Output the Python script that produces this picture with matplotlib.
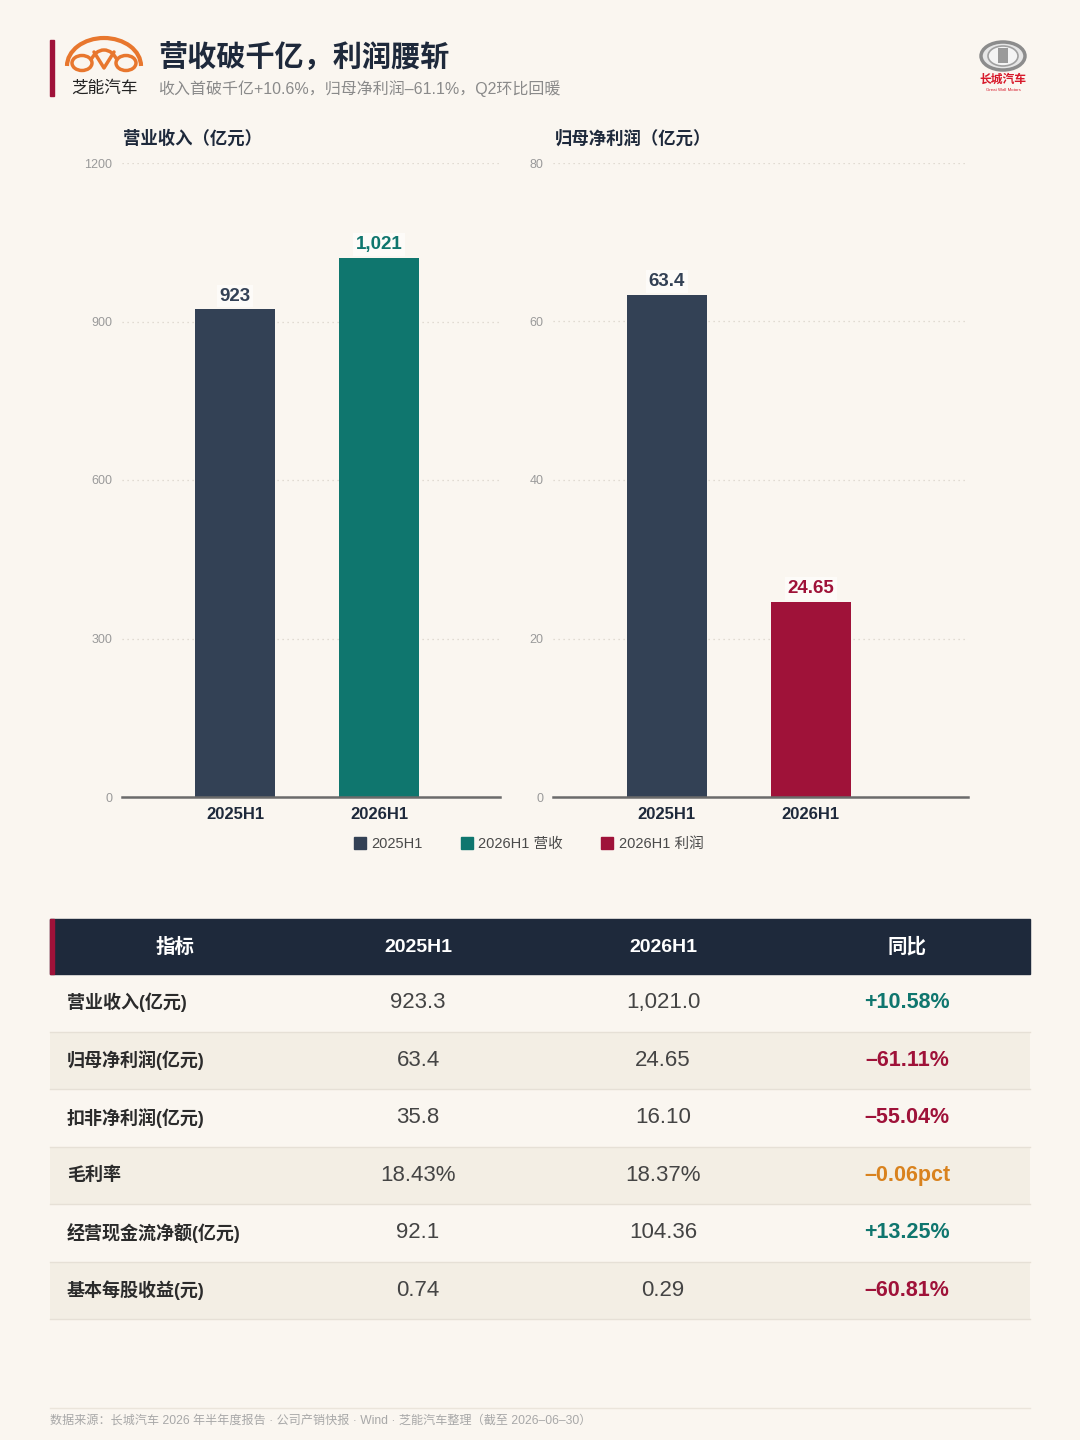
import matplotlib
matplotlib.use('Agg')
import matplotlib.pyplot as plt
from matplotlib.patches import Rectangle, Ellipse, Arc
from matplotlib.lines import Line2D

# 拉丁字符用 Liberation Sans，中文回落到 Noto Sans CJK SC
plt.rcParams['font.family'] = ['Liberation Sans', 'Noto Sans CJK SC', 'DejaVu Sans']

# ---- 数据 ----
categories = ['2025H1', '2026H1']
revenue = [923, 1021]
revenue_labels = ['923', '1,021']
profit = [63.4, 24.65]
profit_labels = ['63.4', '24.65']
rev_ticks = [0, 300, 600, 900, 1200]
profit_ticks = [0, 20, 40, 60, 80]

table_head = ['指标', '2025H1', '2026H1', '同比']
metrics = ['营业收入(亿元)', '归母净利润(亿元)', '扣非净利润(亿元)', '毛利率',
           '经营现金流净额(亿元)', '基本每股收益(元)']
h1_2025 = ['923.3', '63.4', '35.8', '18.43%', '92.1', '0.74']
h1_2026 = ['1,021.0', '24.65', '16.10', '18.37%', '104.36', '0.29']
yoy = ['+10.58%', '–61.11%', '–55.04%', '–0.06pct', '+13.25%', '–60.81%']

# ---- 颜色 ----
bg = '#faf6f0'
navy = '#334155'
teal = '#0f766e'
crimson = '#9f1239'
orange = '#d9821e'
dark = '#1e293b'
grid_c = '#d9d3c9'

W, H = 1080, 1440
fig = plt.figure(figsize=(10.8, 14.4), dpi=100)
fig.patch.set_facecolor(bg)


def box(x0, y0, x1, y1):
    # 像素坐标 -> figure 坐标
    return [x0 / W, 1 - y1 / H, (x1 - x0) / W, (y1 - y0) / H]


def style_axis(ax, ticks):
    ax.set_facecolor('none')
    ax.set_yticks(ticks)
    ax.set_ylim(ticks[0], ticks[-1])
    ax.grid(axis='y', linestyle=(0, (1, 3)), color=grid_c, linewidth=0.9)
    ax.set_axisbelow(True)
    for s in ['top', 'right', 'left']:
        ax.spines[s].set_visible(False)
    ax.spines['bottom'].set_color('#6b6b6b')
    ax.spines['bottom'].set_linewidth(1.8)
    ax.tick_params(axis='y', length=0, pad=7, labelsize=9, labelcolor='#9a9a9a')
    ax.tick_params(axis='x', length=0, pad=7)
    ax.set_xticks(range(len(categories)))
    ax.set_xticklabels(categories, fontsize=12, fontweight='bold', color=dark)


def value_labels(ax, vals, labels, colors):
    for i, (v, t, c) in enumerate(zip(vals, labels, colors)):
        ax.annotate(t, (i, v), xytext=(0, 9.5), textcoords='offset points',
                    ha='center', va='center', fontsize=13.5, fontweight='bold', color=c,
                    bbox=dict(boxstyle='square,pad=0.15', fc='#fdfbf8', ec='none'))


# ---- 左图：营业收入 ----
ax1 = fig.add_axes(box(122, 163, 500, 797))
ax1.bar(range(len(categories)), revenue, width=0.556, color=[navy, teal])
ax1.set_xlim(-0.785, 1.84)
style_axis(ax1, rev_ticks)
value_labels(ax1, revenue, revenue_labels, [navy, teal])
fig.text(123 / W, 1 - 138 / H, '营业收入（亿元）', fontsize=12.5, fontweight='bold',
         color=dark, va='center', ha='left')

# ---- 右图：归母净利润 ----
ax2 = fig.add_axes(box(553, 163, 968, 797))
ax2.bar(range(len(categories)), profit, width=0.556, color=[navy, crimson])
ax2.set_xlim(-0.79, 2.09)
style_axis(ax2, profit_ticks)
value_labels(ax2, profit, profit_labels, [navy, crimson])
fig.text(555 / W, 1 - 138 / H, '归母净利润（亿元）', fontsize=12.5, fontweight='bold',
         color=dark, va='center', ha='left')

# ---- 图例 ----
handles = [Line2D([], [], marker='s', ls='', color=c, markersize=9, label=l)
           for c, l in [(navy, '2025H1'), (teal, '2026H1 营收'), (crimson, '2026H1 利润')]]
fig.legend(handles=handles, loc='center', bbox_to_anchor=(528 / W, 1 - 844 / H), ncol=3,
           frameon=False, fontsize=10.5, labelcolor='#4a4a4a', handletextpad=0.3,
           columnspacing=2.5, handlelength=1.0)

# ---- 覆盖层：标题、表格、页脚 ----
ov = fig.add_axes([0, 0, 1, 1], zorder=-1)
ov.set_xlim(0, W)
ov.set_ylim(H, 0)
ov.axis('off')

# 标题区
ov.add_patch(Rectangle((50, 40), 3.5, 56, color=crimson))
lc = '#e8772e'
ov.add_patch(Arc((104, 66), 74, 56, theta1=180, theta2=360, color=lc, lw=3))
ov.add_patch(Ellipse((82, 63), 20, 15, fill=False, ec=lc, lw=2.5))
ov.add_patch(Ellipse((126, 63), 20, 15, fill=False, ec=lc, lw=2.5))
ov.add_patch(Arc((104, 70), 30, 40, theta1=215, theta2=325, color=lc, lw=2.5))
ov.plot([94, 104, 114], [52, 68, 52], color=lc, lw=2.5, solid_capstyle='round')
ov.text(104, 88, '芝能汽车', fontsize=12, color='#222222', ha='center', va='center')
ov.text(158, 57, '营收破千亿，利润腰斩', fontsize=21, fontweight='bold', color=dark,
        ha='left', va='center')
ov.text(158, 89, '收入首破千亿+10.6%，归母净利润–61.1%，Q2环比回暖', fontsize=11.5,
        color='#8a8a8a', ha='left', va='center')

# 长城汽车标志
ov.add_patch(Ellipse((1003, 56), 44, 28, fc='#e6e6e6', ec='#8c8c8c', lw=2.5))
ov.add_patch(Ellipse((1003, 56), 30, 20, fc='#f4f4f4', ec='#a0a0a0', lw=1.2))
ov.add_patch(Rectangle((998, 48), 10, 15, fc='#9a9a9a', ec='none'))
ov.text(1003, 80, '长城汽车', fontsize=8.5, fontweight='bold', color='#d7192a',
        ha='center', va='center')
ov.text(1003, 90, 'Great Wall Motors', fontsize=3.2, color='#d7192a',
        ha='center', va='center')

# 表格
col_x = [175, 418, 663, 907]
ov.add_patch(Rectangle((50, 919), 980, 55, color=dark))
ov.add_patch(Rectangle((50, 919), 3.5, 55, color=crimson))
for cx, t in zip(col_x, table_head):
    ov.text(cx, 947, t, fontsize=14, fontweight='bold', color='white',
            ha='center', va='center')

row_h = 57.5
for i, (m, a, b, y) in enumerate(zip(metrics, h1_2025, h1_2026, yoy)):
    top = 974 + i * row_h
    if i % 2 == 1:
        ov.add_patch(Rectangle((50, top), 980, row_h, color='#f3eee4', lw=0))
    ov.plot([50, 1030], [top + row_h, top + row_h], color='#e6e0d6', lw=1)
    cy = top + row_h / 2
    if y.startswith('+'):
        yc = teal
    elif y.endswith('pct'):
        yc = orange
    else:
        yc = crimson
    ov.text(67, cy, m, fontsize=13, fontweight='bold', color='#2b2b2b',
            ha='left', va='center')
    ov.text(col_x[1], cy, a, fontsize=16, color='#444444', ha='center', va='center')
    ov.text(col_x[2], cy, b, fontsize=16, color='#444444', ha='center', va='center')
    ov.text(col_x[3], cy, y, fontsize=15.5, fontweight='bold', color=yc,
            ha='center', va='center')

# 页脚
ov.plot([50, 1030], [1408, 1408], color='#ebe5db', lw=1)
ov.text(50, 1421, '数据来源：长城汽车 2026 年半年度报告 · 公司产销快报 · Wind · 芝能汽车整理（截至 2026–06–30）',
        fontsize=8.7, color='#a8a8a8', ha='left', va='center')

fig.savefig('out.png', dpi=100, facecolor=bg)
